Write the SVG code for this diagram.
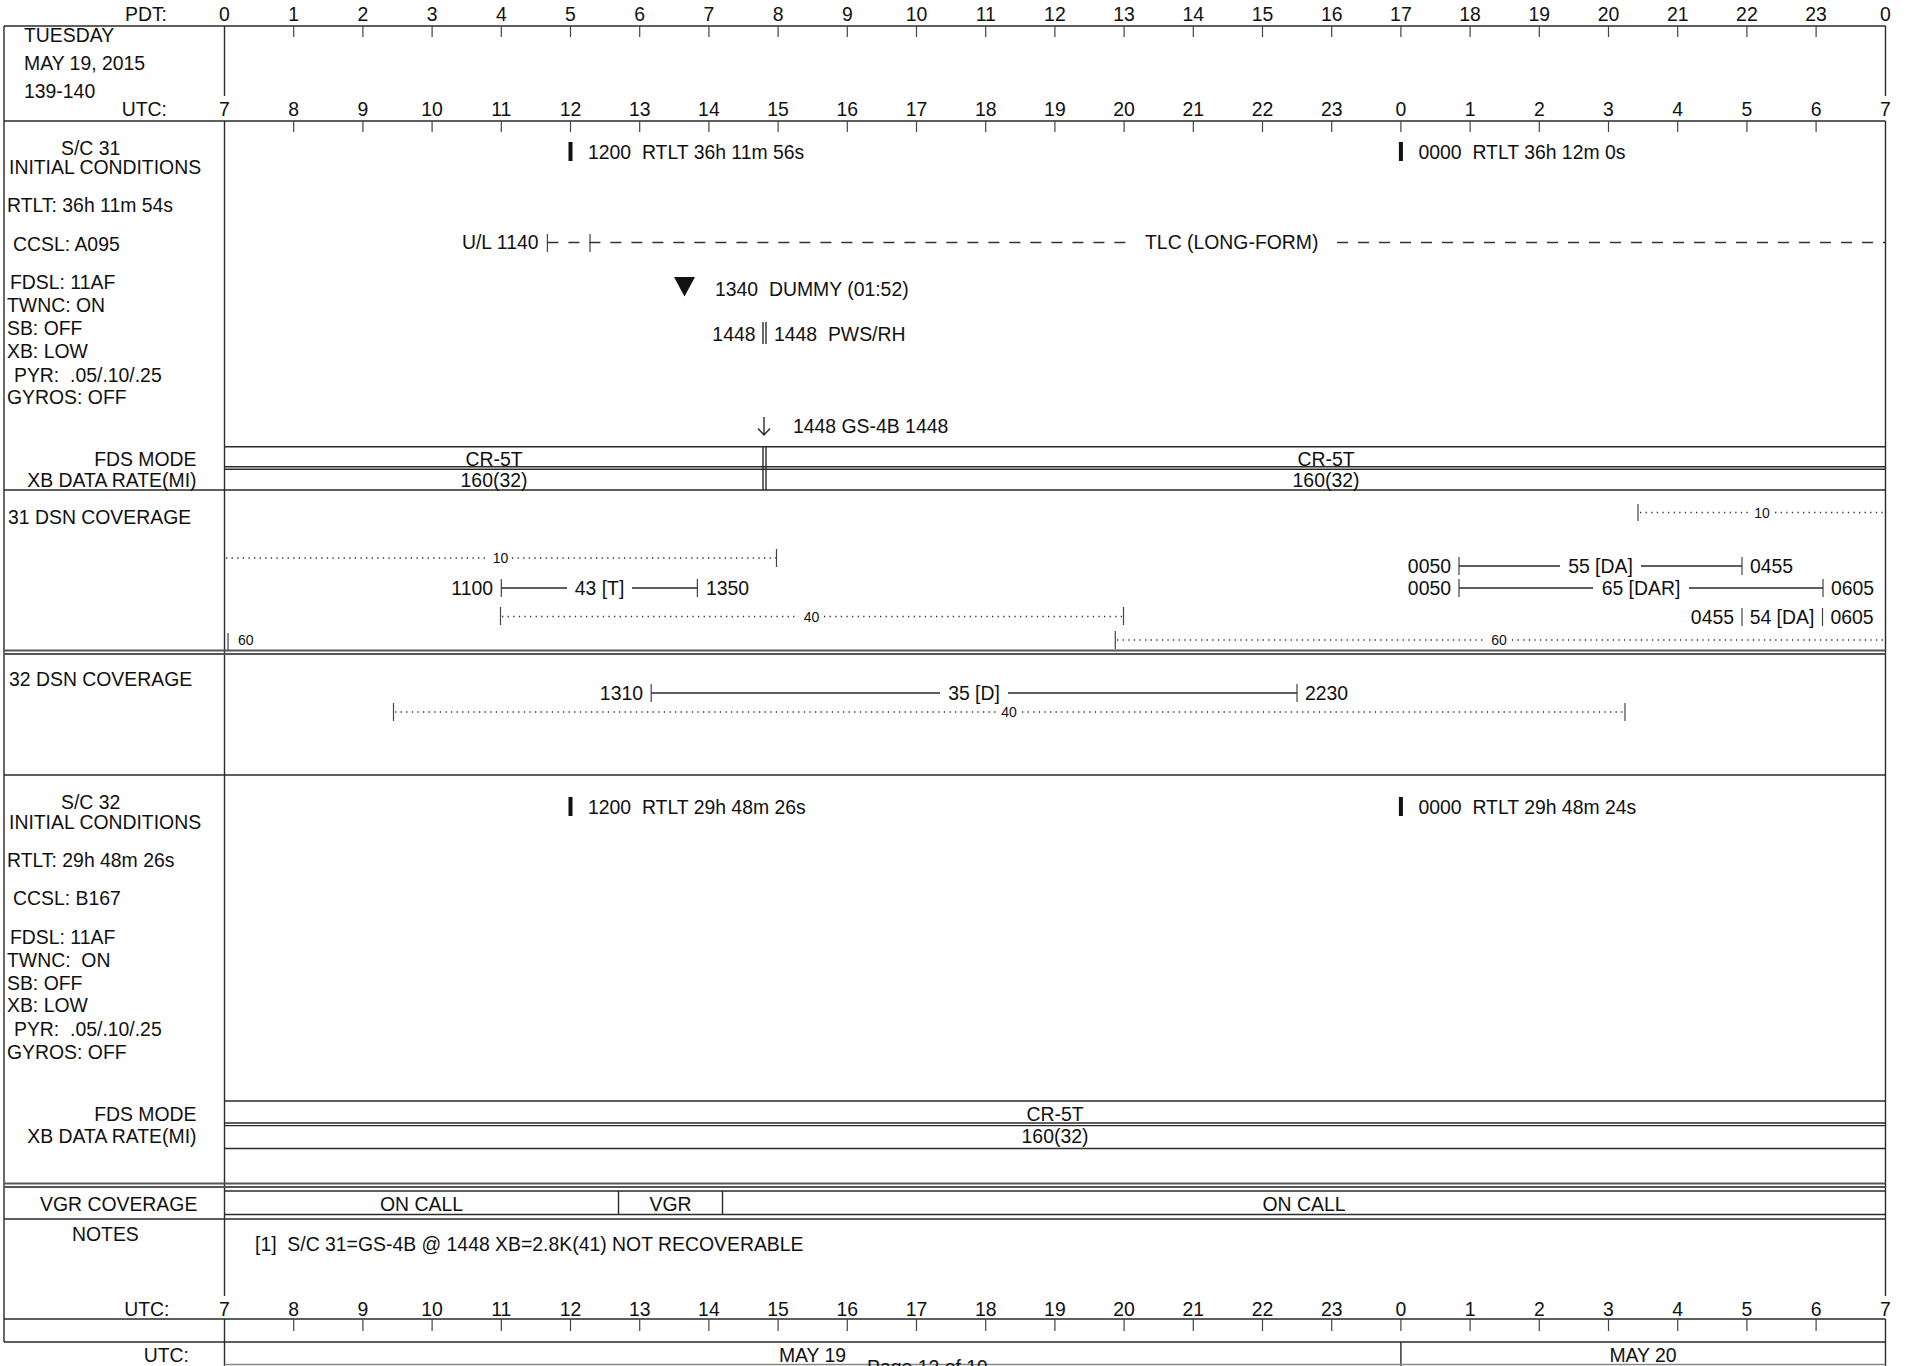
<svg xmlns="http://www.w3.org/2000/svg" width="1910" height="1366" viewBox="0 0 1910 1366">
<style>
text{font-family:"Liberation Sans",Arial,Helvetica,sans-serif;font-size:19.4px;fill:#111}
.s{font-size:14px}
.m{text-anchor:middle}
.e{text-anchor:end}
.ln{stroke:#2b2b2b;stroke-width:1.4;fill:none}
.tk{stroke:#444;stroke-width:1.2;fill:none}
.dot{stroke:#333;stroke-width:1.3;stroke-dasharray:1.3 4.3;fill:none}
.dash{stroke:#333;stroke-width:1.3;stroke-dasharray:11 10;fill:none}
.dbl{stroke:#555;stroke-width:1.8;fill:none}
.bar{fill:#111}
</style>
<rect width="1910" height="1366" fill="#fff"/>

<g id="frame">
<path class="ln" d="M4 26H1885.5M4 26V1342M4 121H1885.5M224.5 26V96M1885.5 26V96M224.5 121V1296M1885.5 121V1296M4 490H1885.5M4 775H1885.5M4 1219H1885.5M4 1319H1885.5M4 1342H1885.5M224.5 1319V1366M1885.5 1319V1366M1400.9 1342V1366"/>
<path class="dbl" d="M4 650.5H1885.5M4 654H1885.5M4 1183.5H1885.5M4 1187H1885.5"/>
<path stroke="#888" stroke-width="1.4" d="M224.5 1364.5H1885.5"/>
<path class="tk" d="M293.7 26V37M362.9 26V37M432.1 26V37M501.3 26V37M570.5 26V37M639.7 26V37M708.9 26V37M778.1 26V37M847.3 26V37M916.5 26V37M985.7 26V37M1054.9 26V37M1124.1 26V37M1193.3 26V37M1262.5 26V37M1331.7 26V37M1400.9 26V37M1470.1 26V37M1539.3 26V37M1608.5 26V37M1677.7 26V37M1746.9 26V37M1816.1 26V37"/>
<path class="tk" d="M293.7 121V132M362.9 121V132M432.1 121V132M501.3 121V132M570.5 121V132M639.7 121V132M708.9 121V132M778.1 121V132M847.3 121V132M916.5 121V132M985.7 121V132M1054.9 121V132M1124.1 121V132M1193.3 121V132M1262.5 121V132M1331.7 121V132M1400.9 121V132M1470.1 121V132M1539.3 121V132M1608.5 121V132M1677.7 121V132M1746.9 121V132M1816.1 121V132"/>
<path class="tk" d="M293.7 1319V1331M362.9 1319V1331M432.1 1319V1331M501.3 1319V1331M570.5 1319V1331M639.7 1319V1331M708.9 1319V1331M778.1 1319V1331M847.3 1319V1331M916.5 1319V1331M985.7 1319V1331M1054.9 1319V1331M1124.1 1319V1331M1193.3 1319V1331M1262.5 1319V1331M1331.7 1319V1331M1400.9 1319V1331M1470.1 1319V1331M1539.3 1319V1331M1608.5 1319V1331M1677.7 1319V1331M1746.9 1319V1331M1816.1 1319V1331"/>
</g>

<g id="header">
<text x="167" y="21" class="e">PDT:</text>
<text x="224.5" y="21" class="m">0</text><text x="293.7" y="21" class="m">1</text><text x="362.9" y="21" class="m">2</text><text x="432.1" y="21" class="m">3</text><text x="501.3" y="21" class="m">4</text><text x="570.5" y="21" class="m">5</text><text x="639.7" y="21" class="m">6</text><text x="708.9" y="21" class="m">7</text><text x="778.1" y="21" class="m">8</text><text x="847.3" y="21" class="m">9</text><text x="916.5" y="21" class="m">10</text><text x="985.7" y="21" class="m">11</text><text x="1054.9" y="21" class="m">12</text><text x="1124.1" y="21" class="m">13</text><text x="1193.3" y="21" class="m">14</text><text x="1262.5" y="21" class="m">15</text><text x="1331.7" y="21" class="m">16</text><text x="1400.9" y="21" class="m">17</text><text x="1470.1" y="21" class="m">18</text><text x="1539.3" y="21" class="m">19</text><text x="1608.5" y="21" class="m">20</text><text x="1677.7" y="21" class="m">21</text><text x="1746.9" y="21" class="m">22</text><text x="1816.1" y="21" class="m">23</text><text x="1885.3" y="21" class="m">0</text>
<text x="24" y="42">TUESDAY</text>
<text x="24" y="70">MAY 19, 2015</text>
<text x="24" y="98">139-140</text>
<text x="167" y="115.5" class="e">UTC:</text>
<text x="224.5" y="115.5" class="m">7</text><text x="293.7" y="115.5" class="m">8</text><text x="362.9" y="115.5" class="m">9</text><text x="432.1" y="115.5" class="m">10</text><text x="501.3" y="115.5" class="m">11</text><text x="570.5" y="115.5" class="m">12</text><text x="639.7" y="115.5" class="m">13</text><text x="708.9" y="115.5" class="m">14</text><text x="778.1" y="115.5" class="m">15</text><text x="847.3" y="115.5" class="m">16</text><text x="916.5" y="115.5" class="m">17</text><text x="985.7" y="115.5" class="m">18</text><text x="1054.9" y="115.5" class="m">19</text><text x="1124.1" y="115.5" class="m">20</text><text x="1193.3" y="115.5" class="m">21</text><text x="1262.5" y="115.5" class="m">22</text><text x="1331.7" y="115.5" class="m">23</text><text x="1400.9" y="115.5" class="m">0</text><text x="1470.1" y="115.5" class="m">1</text><text x="1539.3" y="115.5" class="m">2</text><text x="1608.5" y="115.5" class="m">3</text><text x="1677.7" y="115.5" class="m">4</text><text x="1746.9" y="115.5" class="m">5</text><text x="1816.1" y="115.5" class="m">6</text><text x="1885.3" y="115.5" class="m">7</text>
</g>

<g id="sc31-labels">
<text x="61" y="155">S/C 31</text>
<text x="9" y="174">INITIAL CONDITIONS</text>
<text x="7" y="212">RTLT: 36h 11m 54s</text>
<text x="13" y="251">CCSL: A095</text>
<text x="10" y="289">FDSL: 11AF</text>
<text x="7" y="312">TWNC: ON</text>
<text x="7" y="335">SB: OFF</text>
<text x="7" y="358">XB: LOW</text>
<text x="14" y="381.5" xml:space="preserve">PYR:  .05/.10/.25</text>
<text x="7" y="404">GYROS: OFF</text>
<text x="196.5" y="466" class="e">FDS MODE</text>
<text x="196.5" y="487" class="e">XB DATA RATE(MI)</text>
</g>

<g id="sc31-events">
<rect class="bar" x="568.5" y="142" width="4" height="19"/>
<text x="588" y="159" xml:space="preserve">1200  RTLT 36h 11m 56s</text>
<rect class="bar" x="1398.9" y="142" width="4" height="19"/>
<text x="1418.5" y="159" xml:space="preserve">0000  RTLT 36h 12m 0s</text>
<text x="538.5" y="249.3" class="e">U/L 1140</text>
<text x="1145" y="249.3">TLC (LONG-FORM)</text>
<polygon class="bar" points="674,277 695,277 684.5,296.5"/>
<text x="715" y="295.5" xml:space="preserve">1340  DUMMY (01:52)</text>
<text x="755.5" y="340.5" class="e">1448</text>
<text x="774" y="340.5" xml:space="preserve">1448  PWS/RH</text>
<text x="793" y="433">1448 GS-4B 1448</text>
</g>

<g id="sc31-fds">
<path class="ln" d="M224.5 446.7H1885.5M224.5 466.7H1885.5M224.5 469.3H1885.5M763 446.7V490M766 446.7V490"/>
<text x="494" y="465.5" class="m">CR-5T</text>
<text x="494" y="487" class="m">160(32)</text>
<text x="1326" y="465.5" class="m">CR-5T</text>
<text x="1326" y="487" class="m">160(32)</text>
</g>

<g id="dsn31">
<text x="8" y="524">31 DSN COVERAGE</text>
<text x="500.5" y="563" class="s m">10</text>
<text x="493" y="594.5" class="e">1100</text>
<text x="599.5" y="594.5" class="m">43 [T]</text>
<text x="706" y="594.5">1350</text>
<text x="811.5" y="621.5" class="s m">40</text>
<text x="238" y="645" class="s">60</text>
<text x="1499" y="645" class="s m">60</text>
<text x="1762" y="517.5" class="s m">10</text>
<text x="1451" y="572.5" class="e">0050</text>
<text x="1600.5" y="572.5" class="m">55 [DA]</text>
<text x="1750" y="572.5">0455</text>
<text x="1451" y="594.5" class="e">0050</text>
<text x="1641" y="594.5" class="m">65 [DAR]</text>
<text x="1831" y="594.5">0605</text>
<text x="1734" y="623.5" class="e">0455</text>
<text x="1782" y="623.5" class="m">54 [DA]</text>
<text x="1830.5" y="623.5">0605</text>
</g>

<g id="dsn32">
<text x="9" y="686">32 DSN COVERAGE</text>
<text x="643" y="699.5" class="e">1310</text>
<text x="974" y="699.5" class="m">35 [D]</text>
<text x="1305" y="699.5">2230</text>
<text x="1009" y="717" class="s m">40</text>
</g>

<g id="sc32-labels">
<text x="61" y="809">S/C 32</text>
<text x="9" y="829">INITIAL CONDITIONS</text>
<text x="7" y="866.5">RTLT: 29h 48m 26s</text>
<text x="13" y="905">CCSL: B167</text>
<text x="10" y="944">FDSL: 11AF</text>
<text x="7" y="966.7" xml:space="preserve">TWNC:  ON</text>
<text x="7" y="990">SB: OFF</text>
<text x="7" y="1012">XB: LOW</text>
<text x="14" y="1035.7" xml:space="preserve">PYR:  .05/.10/.25</text>
<text x="7" y="1059">GYROS: OFF</text>
<text x="196.5" y="1121" class="e">FDS MODE</text>
<text x="196.5" y="1142.7" class="e">XB DATA RATE(MI)</text>
</g>

<g id="sc32-events">
<rect class="bar" x="568.5" y="797" width="4" height="19"/>
<text x="588" y="813.5" xml:space="preserve">1200  RTLT 29h 48m 26s</text>
<rect class="bar" x="1398.9" y="797" width="4" height="19"/>
<text x="1418.5" y="813.5" xml:space="preserve">0000  RTLT 29h 48m 24s</text>
</g>

<g id="sc32-fds">
<path class="ln" d="M224.5 1101H1885.5M224.5 1123H1885.5M224.5 1125.6H1885.5M224.5 1148.5H1885.5"/>
<text x="1055" y="1121" class="m">CR-5T</text>
<text x="1055" y="1143" class="m">160(32)</text>
</g>

<g id="vgr">
<path class="ln" d="M224.5 1191H1885.5M224.5 1214.5H1885.5M618.5 1191V1214.5M722.5 1191V1214.5"/>
<text x="40" y="1210.5">VGR COVERAGE</text>
<text x="421.5" y="1210.5" class="m">ON CALL</text>
<text x="670.5" y="1210.5" class="m">VGR</text>
<text x="1304" y="1210.5" class="m">ON CALL</text>
</g>

<g id="notes">
<text x="72" y="1240.5">NOTES</text>
<text x="255" y="1251" xml:space="preserve">[1]  S/C 31=GS-4B @ 1448 XB=2.8K(41) NOT RECOVERABLE</text>
</g>

<g id="footer">
<text x="169.5" y="1315.5" class="e">UTC:</text>
<text x="224.5" y="1315.5" class="m">7</text><text x="293.7" y="1315.5" class="m">8</text><text x="362.9" y="1315.5" class="m">9</text><text x="432.1" y="1315.5" class="m">10</text><text x="501.3" y="1315.5" class="m">11</text><text x="570.5" y="1315.5" class="m">12</text><text x="639.7" y="1315.5" class="m">13</text><text x="708.9" y="1315.5" class="m">14</text><text x="778.1" y="1315.5" class="m">15</text><text x="847.3" y="1315.5" class="m">16</text><text x="916.5" y="1315.5" class="m">17</text><text x="985.7" y="1315.5" class="m">18</text><text x="1054.9" y="1315.5" class="m">19</text><text x="1124.1" y="1315.5" class="m">20</text><text x="1193.3" y="1315.5" class="m">21</text><text x="1262.5" y="1315.5" class="m">22</text><text x="1331.7" y="1315.5" class="m">23</text><text x="1400.9" y="1315.5" class="m">0</text><text x="1470.1" y="1315.5" class="m">1</text><text x="1539.3" y="1315.5" class="m">2</text><text x="1608.5" y="1315.5" class="m">3</text><text x="1677.7" y="1315.5" class="m">4</text><text x="1746.9" y="1315.5" class="m">5</text><text x="1816.1" y="1315.5" class="m">6</text><text x="1885.3" y="1315.5" class="m">7</text>
<text x="189" y="1361.5" class="e">UTC:</text>
<text x="812.5" y="1361.5" class="m">MAY 19</text>
<text x="1643" y="1361.5" class="m">MAY 20</text>
<text x="867" y="1373.5">Page 12 of 19</text>
</g>

<g id="connectors">
<path class="tk" d="M547.4 234V252M590 234V252"/>
<path class="dash" d="M547.4 242.5H1134M1337 242.5H1885"/>
<path class="ln" d="M763 322V344M766 322V344"/>
<path class="ln" d="M764 417V435M758 428.5L764 435L770 428.5"/>
<path class="tk" d="M776.5 549V567M501.3 579V597M697.4 579V597M500.5 607V625M1123.5 607V625M228 633V650M1115.3 631V649M1638 504V521M1459 557V575M1742 557V575M1459 579V597M1823 579V597M1742 608V626M1822.5 608V626M651.2 684V702M1297 684V702M393.5 703V721M1625 703V721"/>
<path class="dot" d="M226 558H489M512 558H776M502 616.5H799M824 616.5H1123M1117 640H1486M1512 640H1885M1640 512.5H1749M1775 512.5H1885M395 712H996M1022 712H1625"/>
<path class="ln" d="M501.3 588H567M632 588H697.4M1459 566H1560M1641 566H1742M1459 588H1593M1689 588H1823M651.2 693H940M1008 693H1297"/>
</g>
</svg>
